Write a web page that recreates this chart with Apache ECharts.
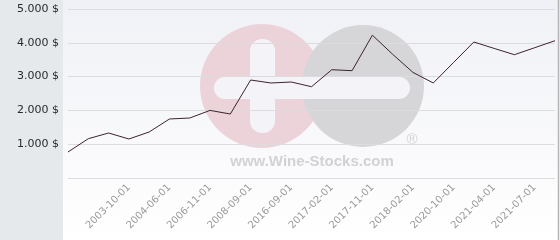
<!DOCTYPE html>
<html>
<head>
<meta charset="utf-8">
<script src="https://cdn.jsdelivr.net/npm/echarts@6/dist/echarts.min.js"></script>
<style>html,body{margin:0;padding:0;background:#fff}#c{width:560px;height:240px}</style>
</head>
<body>
<div id="c"></div>
<script>
// Category labels (only the visible ones are known; others left blank)
var categories = ['', '', '', '2003-10-01', '', '2004-06-01', '', '2006-11-01', '', '2008-09-01', '', '2016-09-01', '', '2017-02-01', '', '2017-11-01', '', '2018-02-01', '', '2020-10-01', '', '2021-04-01', '', '2021-07-01', ''];
var prices = [769, 1163, 1331, 1154, 1361, 1746, 1775, 2000, 1893, 2899, 2811, 2840, 2701, 3204, 3175, 4225, 3660, 3124, 2811, 3417, 4024, 3834, 3648, 3855, 4062];
var yTicks = [0, 1000, 2000, 3000, 4000, 5000];

var chart = echarts.init(document.getElementById('c'), null, {renderer: 'canvas'});
var bgCol = '#f4f4f8';
function fmt(v) {
  if (v === 0) return '';
  var s = String(v);
  return s.replace(/\B(?=(\d{3})+(?!\d))/g, '.') + ' $';
}
chart.setOption({
  animation: false,
  backgroundColor: '#ffffff',
  graphic: [
    {type: 'rect', zlevel: -1, z: 0, shape: {x: 63, y: 0, width: 497, height: 240},
     style: {fill: new echarts.graphic.LinearGradient(0, 0, 0, 1, [{offset: 0, color: '#f0f1f6'}, {offset: 1, color: '#ffffff'}])}, silent: true},
    {type: 'rect', zlevel: -1, z: 0, shape: {x: 0, y: 0, width: 63, height: 240}, style: {fill: '#e6e9ec'}, silent: true},
    {type: 'line', z: 20, shape: {x1: 558.5, y1: 0, x2: 558.5, y2: 240}, style: {stroke: '#b4b4b4', lineWidth: 1.5}, silent: true},
    {type: 'group', zlevel: -1, z: 1, silent: true, children: [
      {type: 'circle', zlevel: -1, z: 1, shape: {cx: 262, cy: 86, r: 62}, style: {fill: '#ecd3da'}},
      {type: 'circle', zlevel: -1, z: 1, shape: {cx: 363, cy: 86, r: 61}, style: {fill: '#d6d6d8'}},
      {type: 'rect', zlevel: -1, z: 1, shape: {x: 250, y: 39, width: 25, height: 94, r: 12}, style: {fill: bgCol}},
      {type: 'rect', zlevel: -1, z: 1, shape: {x: 214, y: 77, width: 196, height: 22, r: 11}, style: {fill: bgCol}},
      {type: 'text', zlevel: -1, z: 1, style: {x: 312, y: 162, text: 'www.Wine-Stocks.com', font: 'bold 15px "Liberation Sans", Arial, sans-serif', fill: '#d2d2d4', align: 'center', verticalAlign: 'middle'}},
      {type: 'text', zlevel: -1, z: 1, style: {x: 412, y: 140, text: '®', font: '15px "Liberation Sans", Arial, sans-serif', fill: '#d2d2d4', align: 'center', verticalAlign: 'middle'}}
    ]}
  ],
  grid: {left: 68, right: 5, top: 9, bottom: 62, containLabel: false},
  xAxis: {
    type: 'category', data: categories, boundaryGap: false,
    axisLine: {show: false}, axisTick: {show: false},
    axisLabel: {interval: 0, rotate: 45, margin: 8, color: '#9a9a9a', fontSize: 10, fontFamily: 'DejaVu Sans'}
  },
  yAxis: {
    type: 'value', min: yTicks[0], max: yTicks[yTicks.length - 1], interval: 1000,
    axisLine: {show: false}, axisTick: {show: false},
    splitLine: {show: true, lineStyle: {color: '#dcdcdf', width: 1}},
    axisLabel: {formatter: fmt, color: '#2a2a2a', fontSize: 11, fontFamily: 'DejaVu Sans', margin: 9}
  },
  series: [{
    type: 'line', data: prices, showSymbol: false, symbol: 'none',
    lineStyle: {color: '#3b2230', width: 1}
  }]
});
</script>
</body>
</html>
